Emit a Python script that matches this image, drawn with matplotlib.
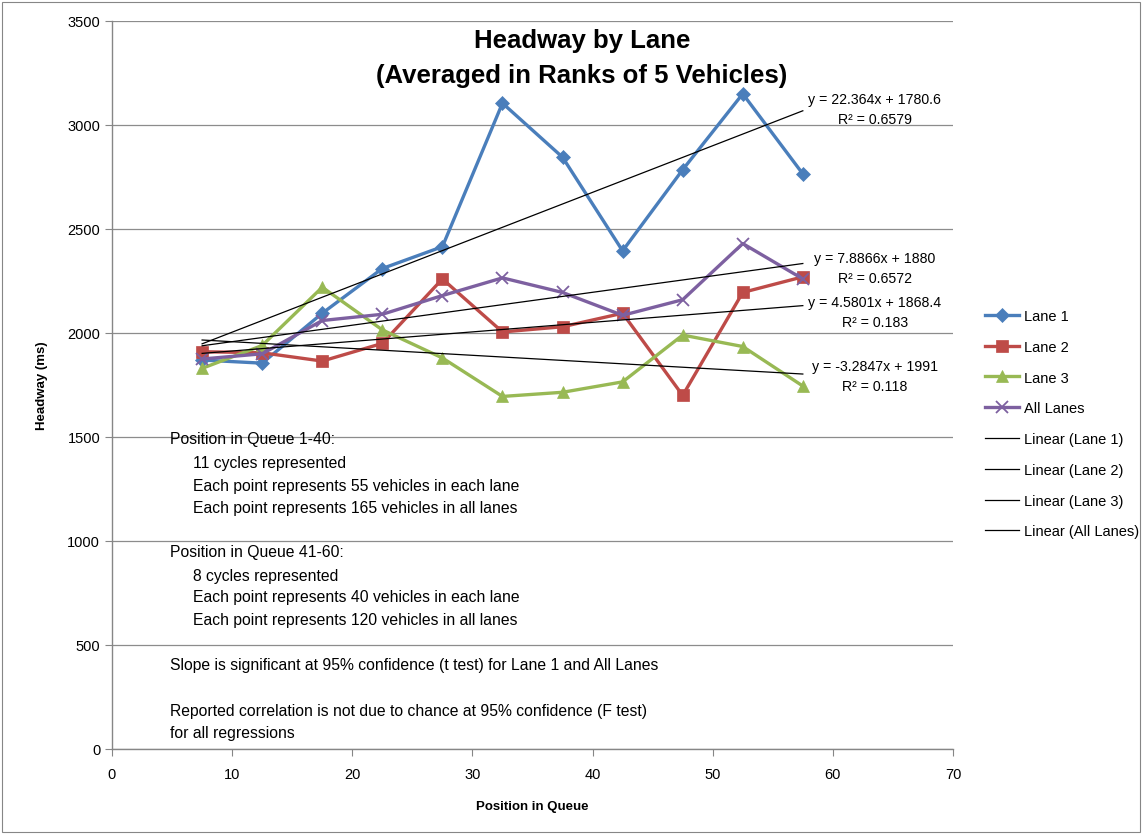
import numpy as np
import matplotlib
matplotlib.use("Agg")
import matplotlib.pyplot as plt
from matplotlib.patches import Rectangle

plt.rcParams['font.family'] = ['Liberation Sans', 'DejaVu Sans']

positions = [7.5, 12.5, 17.5, 22.5, 27.5, 32.5, 37.5, 42.5, 47.5, 52.5, 57.5]
lane1 = [1870, 1855, 2095, 2310, 2415, 3105, 2845, 2395, 2785, 3150, 2765]
lane2 = [1910, 1905, 1865, 1950, 2260, 2005, 2030, 2095, 1700, 2195, 2270]
lane3 = [1830, 1940, 2220, 2015, 1880, 1695, 1715, 1765, 1990, 1935, 1745]
all_lanes = [1875, 1900, 2060, 2090, 2180, 2265, 2195, 2085, 2160, 2430, 2260]

series_names = ["Lane 1", "Lane 2", "Lane 3", "All Lanes"]
equations = ["y = 22.364x + 1780.6\nR² = 0.6579",
             "y = 4.5801x + 1868.4\nR² = 0.183",
             "y = -3.2847x + 1991\nR² = 0.118",
             "y = 7.8866x + 1880\nR² = 0.6572"]
eq_pos = [(63.5, 3077), (63.5, 2101), (63.5, 1793), (63.5, 2312)]

colors = ["#4A7EBB", "#BE4B48", "#98B954", "#7D60A0"]
markers = ["D", "s", "^", "x"]
msizes = [7, 9, 8, 9]

notes = [
    ("Position in Queue 1-40:", 0),
    ("11 cycles represented", 1),
    ("Each point represents 55 vehicles in each lane", 1),
    ("Each point represents 165 vehicles in all lanes", 1),
    ("Position in Queue 41-60:", 0),
    ("8 cycles represented", 1),
    ("Each point represents 40 vehicles in each lane", 1),
    ("Each point represents 120 vehicles in all lanes", 1),
    ("Slope is significant at 95% confidence (t test) for Lane 1 and All Lanes", 0),
    ("Reported correlation is not due to chance at 95% confidence (F test)", 0),
    ("for all regressions", 0),
]
note_y_px = [440, 464, 487, 509, 553, 576, 598, 621, 666, 712, 734]

W, H = 1146, 837
fig = plt.figure(figsize=(W/100, H/100), dpi=100)
fig.patches.append(Rectangle((2/W, 4/H), 1138/W, 830/H, transform=fig.transFigure,
                             fill=False, edgecolor="#868686", linewidth=0.8))
ax = fig.add_axes([112/W, (H-750)/H, (953-112)/W, (750-22)/H])

data = [lane1, lane2, lane3, all_lanes]
handles = []
for vals, name, c, m, ms in zip(data, series_names, colors, markers, msizes):
    h, = ax.plot(positions, vals, color=c, marker=m, markersize=ms, linewidth=2.4,
                 label=name, markeredgewidth=1.3 if m == "x" else 0.5, markeredgecolor=c)
    handles.append(h)

xs = np.array(positions)
for vals, name in zip(data, series_names):
    k, b = np.polyfit(xs, np.array(vals, dtype=float), 1)
    h, = ax.plot([xs[0], xs[-1]], [k*xs[0]+b, k*xs[-1]+b], color="black", linewidth=0.9,
                 label=f"Linear ({name})")
    handles.append(h)

for txt, (ex, ey) in zip(equations, eq_pos):
    ax.text(ex, ey, txt, ha="center", va="center", multialignment="center",
            fontsize=10.2, linespacing=1.5)

for (txt, ind), py in zip(notes, note_y_px):
    xp = 170 + ind * 23
    fig.text(xp/W, (H-py)/H, txt, ha="left", va="center", fontsize=11.3)

ax.set_xlim(0, 70)
ax.set_ylim(0, 3500)
ax.set_xticks(range(0, 71, 10))
ax.set_yticks(range(0, 3501, 500))
ax.yaxis.grid(True, color="#8C8C8C", linewidth=0.9)
ax.set_axisbelow(True)
for s in ["top", "right"]:
    ax.spines[s].set_visible(False)
for s in ["left", "bottom"]:
    ax.spines[s].set_color("#868686")
    ax.spines[s].set_linewidth(1.0)
ax.tick_params(axis="both", colors="#868686", labelcolor="black", labelsize=10.5,
               length=5, direction="out")
ax.tick_params(axis="x", pad=8)

ax.set_xlabel("Position in Queue", fontsize=9.5, fontweight="bold", labelpad=14)
ax.set_ylabel("Headway (ms)", fontsize=9.5, fontweight="bold", labelpad=14)

fig.text(582/W, (H-41)/H, "Headway by Lane", ha="center", va="center",
         fontsize=18.5, fontweight="bold")
fig.text(582/W, (H-76)/H, "(Averaged in Ranks of 5 Vehicles)", ha="center", va="center",
         fontsize=18.5, fontweight="bold")

leg = fig.legend(handles=handles, loc="upper left", bbox_to_anchor=(985/W, (H-310)/H),
                 frameon=False, fontsize=10.5, labelspacing=1.15, handlelength=2.3,
                 handletextpad=0.35, borderaxespad=0, borderpad=0)

fig.savefig("out.png", dpi=100)
